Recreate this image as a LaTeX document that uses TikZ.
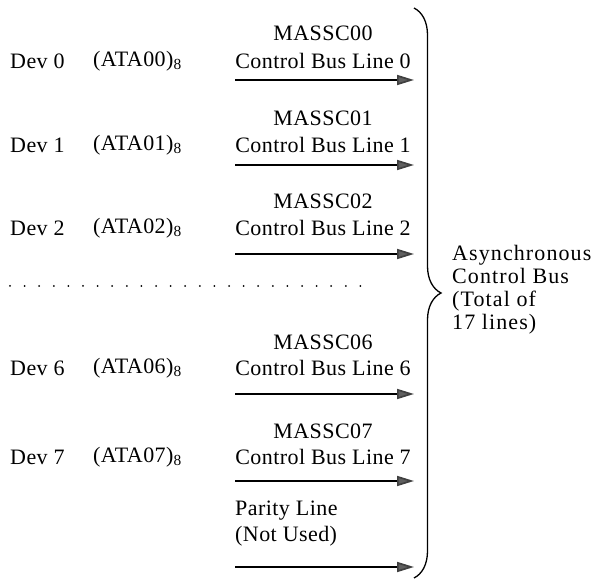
\documentclass[tikz,border=0pt]{standalone}
\usepackage{fontspec}
\setmainfont{Liberation Serif}[LetterSpace=2]
\usepackage{tikz}
\usetikzlibrary{positioning, arrows.meta, decorations.pathreplacing}
\definecolor{headgray}{RGB}{95, 95, 95}

\begin{document}
\begin{tikzpicture}[x=1pt, y=-1pt, node distance=2pt,
    every node/.style={font=\fontsize{22}{26}\selectfont, inner sep=0pt},
    busline/.style={-{Triangle[length=17pt, width=10pt, fill=headgray, color=black!75]}, line width=1.7pt},
    devlabel/.style={anchor=west},
    linelabel/.style={anchor=center}]
  \useasboundingbox (0,0) rectangle (595,580);
  % line 0
  \node[linelabel] (sig0) at (323,33) {MASSC00};
  \node[linelabel] (cbl0) at (323,61) {Control Bus Line 0};
  \node[devlabel] (dev0) at (10,61) {Dev 0};
  \node[devlabel] (ata0) at (93,61) {(ATA00)\textsubscript{8}};
  \coordinate (s0) at (235,80); \coordinate (e0) at (414,80);
  % line 1
  \node[linelabel] (sig1) at (323,118) {MASSC01};
  \node[linelabel] (cbl1) at (323,145) {Control Bus Line 1};
  \node[devlabel] (dev1) at (10,145) {Dev 1};
  \node[devlabel] (ata1) at (93,145) {(ATA01)\textsubscript{8}};
  \coordinate (s1) at (235,165); \coordinate (e1) at (414,165);
  % line 2
  \node[linelabel] (sig2) at (323,201) {MASSC02};
  \node[linelabel] (cbl2) at (323,228) {Control Bus Line 2};
  \node[devlabel] (dev2) at (10,228) {Dev 2};
  \node[devlabel] (ata2) at (93,228) {(ATA02)\textsubscript{8}};
  \coordinate (s2) at (235,254); \coordinate (e2) at (414,254);
  % dotted gap
  \foreach \i in {0,...,24}
    \fill (10+14.6*\i,286) circle (1pt);
  % line 6
  \node[linelabel] (sig6) at (323,342) {MASSC06};
  \node[linelabel] (cbl6) at (323,368) {Control Bus Line 6};
  \node[devlabel] (dev6) at (10,368) {Dev 6};
  \node[devlabel] (ata6) at (93,368) {(ATA06)\textsubscript{8}};
  \coordinate (s6) at (235,394); \coordinate (e6) at (414,394);
  % line 7
  \node[linelabel] (sig7) at (323,431) {MASSC07};
  \node[linelabel] (cbl7) at (323,457) {Control Bus Line 7};
  \node[devlabel] (dev7) at (10,457) {Dev 7};
  \node[devlabel] (ata7) at (93,457) {(ATA07)\textsubscript{8}};
  \coordinate (s7) at (235,481); \coordinate (e7) at (414,481);
  % parity
  \node[devlabel] (par) at (235,511) {Parity Line};
  \node[devlabel] (nu) at (235,536) {(Not Used)};
  \coordinate (sp) at (235,567); \coordinate (ep) at (414,567);
  \draw[busline] (s0) -- (e0);
  \draw[busline] (s1) -- (e1);
  \draw[busline] (s2) -- (e2);
  \draw[busline] (s6) -- (e6);
  \draw[busline] (s7) -- (e7);
  \draw[busline] (sp) -- (ep);
  % brace
  \coordinate (btop) at (414,8); \coordinate (bbot) at (414,578);
  \draw[line width=1.3pt, decorate, decoration={brace, amplitude=27pt}] (btop) -- (bbot);
  \node[anchor=west, align=left, font=\fontsize{22}{23}\addfontfeatures{LetterSpace=5}] (bus) at (452,290)
    {Asynchronous\\Control Bus\\(Total of\\17 lines)};
\end{tikzpicture}
\end{document}
